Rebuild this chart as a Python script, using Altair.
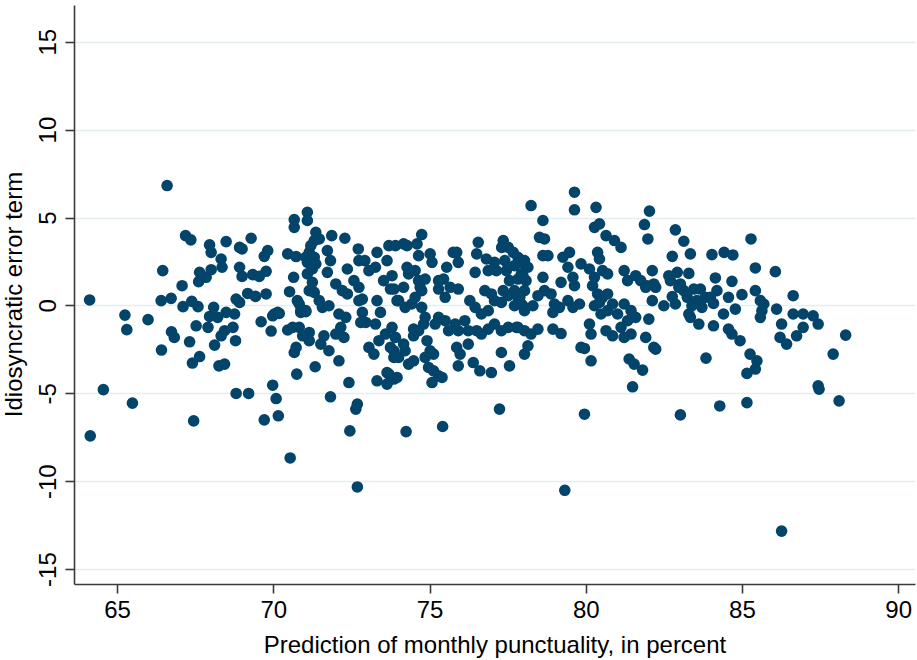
import altair as alt
import pandas as pd

# Prediction of monthly punctuality (percent) and idiosyncratic error term
prediction = [
    66.6, 64.12, 64.56, 65.49, 64.14, 67.45, 65.25, 65.31, 65.99, 66.46, 66.41, 66.73, 66.42, 66.74, 66.83,
    67.08, 67.19, 67.36, 67.11, 67.39, 67.59, 67.32, 67.41, 67.64, 67.53, 67.64, 67.61, 67.96, 68.01, 68.49,
    67.85, 68.01, 68.33, 68.36, 67.91, 67.96, 68.09, 68.22, 68.12, 68.33, 68.44, 68.26, 68.44, 68.81, 69.21,
    68.49, 68.76, 68.79, 68.71, 68.81, 68.92, 68.92, 69.00, 69.29, 68.92, 69.00, 69.18, 69.43, 69.34, 69.55,
    69.77, 69.71, 69.82, 69.77, 69.61, 69.98, 70.19, 69.93, 69.98, 70.09, 69.71, 70.16, 70.54, 70.67, 70.67,
    71.09, 71.09, 70.46, 70.73, 70.65, 70.52, 70.83, 70.88, 71.04, 70.46, 70.83, 71.15, 70.73, 70.67, 70.75,
    71.34, 71.15,
    71.36, 71.31, 71.20, 71.47, 71.87, 72.29, 71.15, 71.04, 71.09, 71.31, 71.36, 71.25, 71.73, 71.83, 71.73,
    72.72, 72.74, 72.93, 73.32, 73.70, 73.64, 73.91, 72.37, 73.06, 73.27, 71.09, 71.25, 71.15, 71.31, 72.00,
    72.21, 72.37, 72.58, 72.74, 72.85, 73.53, 73.75, 73.96, 70.77, 70.88, 71.04, 71.47, 71.57, 71.78, 72.10,
    72.32, 72.16, 72.26, 72.00, 72.74, 72.85, 72.80, 72.96, 73.32, 73.43, 73.27, 70.03, 70.14, 70.62, 70.94,
    71.62, 71.52, 71.78, 72.10, 72.42, 71.83, 72.69, 72.64, 73.06, 73.22, 73.38, 73.59, 73.75, 73.86, 73.32,
    73.64, 73.64,
    74.75, 74.17, 74.28, 74.60, 74.65, 75.02, 75.08, 74.28, 74.33, 74.54, 73.80, 73.86, 74.17, 74.65, 74.86,
    74.75, 74.70, 75.55, 75.76, 75.92, 75.87, 75.29, 75.45, 75.29, 75.50, 75.66, 75.92, 76.56, 76.51, 76.46,
    76.82, 77.08, 77.14, 76.88, 77.36, 77.31, 77.52, 77.68, 77.41, 77.46, 77.72, 77.89, 78.04, 77.56, 77.83,
    77.99, 74.01, 74.22, 74.43, 74.54, 74.75, 74.86, 74.81, 75.29, 75.50, 75.18, 74.49, 74.65, 74.49, 75.82,
    76.13, 76.24, 75.92, 75.61, 76.29, 76.46, 76.66, 76.88, 76.77, 76.98, 77.08, 77.30, 77.36, 77.52, 77.72,
    77.89, 78.04, 77.99, 77.72, 76.51, 76.66, 76.88, 77.08, 77.30, 77.52, 77.78, 78.04, 73.80, 73.91, 73.86,
    74.17, 74.22, 74.01, 74.49, 74.33, 74.92, 75.02, 74.86, 75.13, 74.97, 75.13, 75.29, 75.08, 75.40, 73.70,
    73.86, 73.96, 75.87, 75.98, 75.92, 76.24, 76.40, 76.61, 76.98, 77.30, 77.56, 78.04, 77.24,
    79.64, 79.64, 80.33, 78.25, 78.63, 78.52, 78.68, 82.04, 81.88, 81.99, 80.28, 80.44, 80.65, 80.92, 81.13,
    78.63, 78.79, 79.27, 79.48, 79.43, 77.83, 78.04, 78.15, 77.94, 78.09, 78.63, 78.68, 78.47, 79.21, 79.59,
    79.64, 79.85, 80.12, 80.38, 80.44, 80.54, 80.70, 80.28, 80.22, 80.38, 80.54, 80.70, 80.44, 80.28, 81.23,
    81.34, 81.60, 81.76, 81.92, 82.13, 82.18, 78.89, 79.00, 78.95, 79.16, 79.43, 79.59, 79.80, 77.83, 77.94,
    78.04, 78.31, 80.49, 80.70, 80.86, 81.02, 81.23, 81.45, 81.60, 81.34, 77.83, 78.25, 78.47, 78.15, 78.95,
    79.21, 80.12, 80.17, 79.85, 79.96, 80.17, 80.65, 80.86, 81.13, 81.23, 81.45, 81.39, 81.55, 81.82, 81.50,
    81.92, 82.02, 82.18, 79.96,
    82.87, 83.14, 85.29, 82.77, 83.35, 84.04, 84.43, 84.71, 85.43, 86.07, 82.66, 82.93, 83.30, 81.97, 82.24,
    82.71, 82.98, 83.14, 83.03, 83.46, 83.67, 83.83, 84.15, 84.20, 84.68, 82.77, 82.87, 83.25, 83.40, 83.56,
    83.72, 83.99, 84.09, 84.57, 85.00, 85.43, 85.59, 85.70, 85.64, 85.59, 84.79, 84.41, 82.13, 82.50, 83.30,
    83.35, 83.62, 84.09, 84.57, 84.68, 84.94, 86.11, 86.27, 86.22, 82.24, 83.85, 85.26, 85.48, 85.43, 85.16,
    83.03, 84.29, 85.16,
    86.64, 86.43, 86.64, 86.96, 87.28, 87.44, 86.96, 86.75, 88.32, 87.92, 87.44, 87.47, 88.11,
    72.45, 74.25, 75.42, 72.69, 79.33, 86.27,
]

error = [
    6.82, 0.31, -4.79, -5.56, -7.42, -6.57, -0.55, -1.38, -0.81, 1.98, 0.27, 0.40, -2.54, -1.50, -1.82,
    1.12, 3.97, 3.73, -0.07, 0.23, -0.07, -2.07, -3.28, -2.91, -1.16, 1.88, 1.35, 3.44, 3.02, 3.63,
    1.60, 2.03, 2.64, 2.17, -1.25, -0.63, -0.11, -0.68, -2.26, -1.73, -1.44, -3.44, -3.34, -5.01, -5.01,
    -0.40, -0.49, -2.01, -1.25, 0.36, 0.17, 3.30, 3.21, 3.82, 2.17, 1.65, 0.68, 0.51, 1.75, 1.65,
    1.94, 2.79, 3.12, 0.65, -0.93, -0.59, -0.46, -1.46, -4.54, -5.30, -6.51, -6.28, -8.68, 4.88, 4.44,
    5.30, 4.83, 2.93, 2.78, 1.60, 0.78, 0.08, -0.40, -0.36, -1.40, -1.25, -1.54, -2.39, -2.68, -3.91,
    -3.49, -2.01,
    4.16, 3.69, 3.40, 3.78, 3.97, 3.82, 3.02, 2.74, 2.45, 2.74, 2.36, 2.07, 3.12, 2.55, 1.88,
    3.21, 2.55, 2.55, 3.02, 3.40, 2.55, 3.40, 2.07, 1.98, 2.17, 1.79, 1.31, 0.84, 0.74, 1.22,
    0.84, 0.65, 1.41, 1.03, 0.36, 1.41, 0.93, 0.27, 0.27, -0.30, -0.30, 0.27, -0.11, -0.02, -0.49,
    -0.68, -1.25, -1.82, -1.63, 0.27, -0.40, -0.97, -0.97, 0.27, -0.40, -1.06, -0.49, -0.40, -1.25, -1.73,
    -1.73, -2.20, -2.58, -3.15, -4.39, -5.20, -5.62, -5.90, -2.39, -2.77, -2.01, -1.63, -2.39, -2.96, -4.29,
    -3.82, -4.48,
    4.03, 3.50, 3.40, 3.50, 2.83, 2.93, 2.45, 2.17, 1.79, 1.98, 1.69, 0.93, 1.03, 1.41, 1.50,
    0.84, 1.03, 2.17, 3.02, 2.45, 3.02, 1.41, 1.50, 0.93, 0.46, 1.03, 0.93, 3.59, 2.93, 1.88,
    2.64, 2.45, 1.98, 1.98, 3.69, 3.30, 3.30, 3.02, 2.55, 1.98, 2.26, 2.45, 2.36, 1.41, 1.50,
    1.69, 0.27, -0.11, 0.08, 0.46, -0.11, -0.68, -1.06, -0.68, -0.87, -1.06, -1.35, -1.44, -1.73, -1.06,
    -0.87, -1.44, -1.44, -1.44, 0.27, -0.11, -0.49, -0.30, 0.84, 0.65, 0.27, 0.17, 0.84, 0.55, 0.84,
    0.46, 0.84, -0.02, -0.02, -1.44, -1.63, -1.35, -1.06, -1.44, -1.25, -1.25, -1.44, -1.25, -1.82, -2.58,
    -2.20, -2.58, -2.96, -3.15, -3.34, -2.01, -2.58, -2.96, -2.77, -3.53, -3.72, -4.01, -4.39, -4.10, -3.91,
    -4.19, -4.10, -2.39, -2.77, -3.44, -2.20, -3.25, -3.72, -3.82, -2.68, -3.44, -2.77, -5.90,
    6.44, 5.44, 5.58, 5.68, 4.83, 3.87, 3.78, 5.36, 4.60, 3.78, 4.44, 4.64, 3.97, 3.69, 3.30,
    2.83, 2.83, 2.74, 3.02, 2.17, 2.74, 2.55, 2.17, 1.79, 1.41, 1.60, 0.84, 0.55, 1.31, 1.60,
    1.12, 2.36, 2.07, 3.02, 2.64, 1.98, 1.79, 1.60, 1.12, 0.65, 0.46, 0.65, 0.17, -0.02, 1.98,
    1.41, 1.69, 1.41, 1.03, 1.98, 1.22, 0.65, 0.08, -0.40, -0.11, 0.27, -0.11, 0.08, 0.46, 0.08,
    -0.30, -0.02, -0.49, -0.30, 0.08, -0.49, 0.08, -0.30, -0.68, -0.87, -1.25, -1.63, -1.35, -2.30, -1.35,
    -1.60, -1.06, -1.63, -2.39, -2.45, -3.15, -1.44, -1.73, -1.25, -1.82, -1.63, -3.05, -3.34, -3.68, -4.63,
    -1.82, -0.78, -2.39, -6.19,
    4.30, 3.65, 3.78, 2.79, 2.93, 2.89, 3.02, 2.87, 2.13, 1.92, 1.69, 1.88, 1.82, 1.12, 1.03,
    1.41, 1.03, 0.84, 1.22, 0.93, 0.93, 0.46, 1.56, 0.84, 1.37, 0.50, 0.08, 0.46, -0.02, 0.27,
    -0.11, 0.46, 0.11, 0.46, 0.61, 0.84, 0.27, 0.08, -0.30, -0.68, -0.21, -0.49, 0.27, -0.02, -0.49,
    -0.68, -1.06, -1.16, -1.35, -1.63, -2.01, -0.21, -1.06, -1.82, -2.49, -3.00, -2.77, -3.15, -3.62, -3.87,
    -6.23, -5.72, -5.53,
    0.55, -2.20, -0.49, -0.49, -0.59, -1.06, -1.25, -1.73, -1.69, -2.77, -4.58, -4.77, -5.43,
    -7.14, -7.18, -6.89, -10.33, -10.52, -12.84,
]

x_ticks = [65, 70, 75, 80, 85, 90]
y_ticks = [-15, -10, -5, 0, 5, 10, 15]

df = pd.DataFrame({"prediction": prediction, "error": error})

FONT = "Liberation Sans"
AXIS_COLOR = "#3a3a3a"

chart = (
    alt.Chart(df)
    .mark_circle(size=135, opacity=1, color="#03446b")
    .encode(
        x=alt.X(
            "prediction:Q",
            scale=alt.Scale(domain=[63.62, 90.54], nice=False, zero=False),
            axis=alt.Axis(
                values=x_ticks,
                title="Prediction of monthly punctuality, in percent",
                grid=False,
                domainColor=AXIS_COLOR,
                domainWidth=1.6,
                tickColor=AXIS_COLOR,
                tickWidth=1.6,
                tickSize=9,
                labelFont=FONT,
                labelFontSize=24,
                labelColor="#000000",
                labelPadding=5,
                labelBaseline="top",
                labelExpr="'' + datum.value",
                titleFont=FONT,
                titleFontSize=24,
                titleFontWeight="normal",
                titleColor="#000000",
                titleBaseline="alphabetic",
                titleY=68,
            ),
        ),
        y=alt.Y(
            "error:Q",
            scale=alt.Scale(domain=[-15.85, 17.09], nice=False, zero=False),
            axis=alt.Axis(
                values=y_ticks,
                title="Idiosyncratic error term",
                grid=True,
                gridColor="#e4edf0",
                gridWidth=1.6,
                domainColor=AXIS_COLOR,
                domainWidth=1.6,
                tickColor=AXIS_COLOR,
                tickWidth=1.6,
                tickSize=9,
                labelFont=FONT,
                labelFontSize=24,
                labelColor="#000000",
                labelAngle=270,
                labelAlign="center",
                labelBaseline="alphabetic",
                labelPadding=10,
                labelExpr="'' + datum.value",
                titleFont=FONT,
                titleFontSize=24,
                titleFontWeight="normal",
                titleColor="#000000",
                titleAngle=270,
                titleAlign="center",
                titleBaseline="alphabetic",
                titleX=-53,
                titleY=289,
            ),
        ),
    )
    .properties(
        width=841,
        height=579,
        autosize=alt.AutoSizeParams(type="none"),
        padding={"left": 74, "top": 5, "right": 2, "bottom": 76},
        background="#ffffff",
    )
    .configure_view(stroke=None)
)

chart.save("out.html", embed_options={"renderer": "svg", "actions": False})
